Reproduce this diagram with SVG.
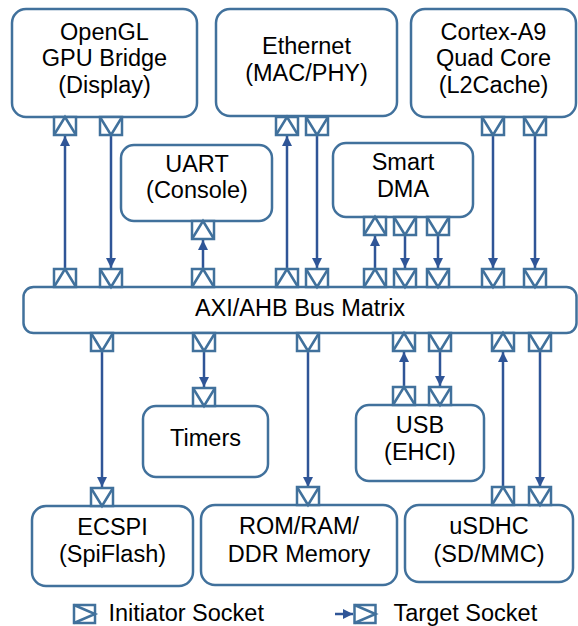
<svg xmlns="http://www.w3.org/2000/svg" xmlns:xlink="http://www.w3.org/1999/xlink" width="578" height="626" viewBox="0 0 578 626">
  <style>
    .box { fill: #ffffff; stroke: #41719c; stroke-width: 2.5; }
    .sock { fill: #ffffff; stroke: #41719c; stroke-width: 2.5; }
    .tri { fill: none; stroke: #41719c; stroke-width: 2.5; stroke-linejoin: miter; }
    .wire { fill: none; stroke: #2f5597; stroke-width: 2.5; }
    .lbl { font-family: "Liberation Sans", Arial, sans-serif; font-size: 23.5px; fill: #000000; text-anchor: middle; }
    .leg { font-family: "Liberation Sans", Arial, sans-serif; font-size: 23.5px; fill: #000000; }
  </style>
  <defs>
    <marker id="arrow" markerUnits="userSpaceOnUse" markerWidth="11" markerHeight="10" refX="10" refY="5" orient="auto">
      <path d="M0,0 L10,5 L0,10 z" fill="#2f5597"/>
    </marker>
    <!-- socket with triangle pointing up -->
    <g id="sock-up">
      <rect class="sock" x="-11" y="-9" width="22" height="18"/>
      <polyline class="tri" points="-11,9 0,-9 11,9"/>
    </g>
    <!-- socket with triangle pointing down -->
    <g id="sock-down">
      <rect class="sock" x="-11" y="-9" width="22" height="18"/>
      <polyline class="tri" points="-11,-9 0,9 11,-9"/>
    </g>
    <!-- socket with triangle pointing right (legend) -->
    <g id="sock-right">
      <rect class="sock" x="-10.5" y="-9" width="21" height="18"/>
      <polyline class="tri" points="-10.5,-9 10.5,0 -10.5,9"/>
    </g>
  </defs>

  <!-- connectors -->
  <g id="connectors">
    <line class="wire" x1="65" y1="269" x2="65" y2="136" marker-end="url(#arrow)"/>
    <line class="wire" x1="111" y1="135" x2="111" y2="268" marker-end="url(#arrow)"/>
    <line class="wire" x1="203" y1="269" x2="203" y2="240" marker-end="url(#arrow)"/>
    <line class="wire" x1="287" y1="269" x2="287" y2="136" marker-end="url(#arrow)"/>
    <line class="wire" x1="317" y1="135" x2="317" y2="268" marker-end="url(#arrow)"/>
    <line class="wire" x1="375" y1="269" x2="375" y2="236" marker-end="url(#arrow)"/>
    <line class="wire" x1="405" y1="235" x2="405" y2="268" marker-end="url(#arrow)"/>
    <line class="wire" x1="438" y1="235" x2="438" y2="268" marker-end="url(#arrow)"/>
    <line class="wire" x1="493" y1="135" x2="493" y2="268" marker-end="url(#arrow)"/>
    <line class="wire" x1="535" y1="135" x2="535" y2="268" marker-end="url(#arrow)"/>
    <line class="wire" x1="102" y1="351" x2="102" y2="487" marker-end="url(#arrow)"/>
    <line class="wire" x1="204" y1="351" x2="204" y2="387" marker-end="url(#arrow)"/>
    <line class="wire" x1="308" y1="351" x2="308" y2="487" marker-end="url(#arrow)"/>
    <line class="wire" x1="404" y1="387" x2="404" y2="352" marker-end="url(#arrow)"/>
    <line class="wire" x1="440" y1="351" x2="440" y2="386" marker-end="url(#arrow)"/>
    <line class="wire" x1="503" y1="488" x2="503" y2="352" marker-end="url(#arrow)"/>
    <line class="wire" x1="540" y1="351" x2="540" y2="487" marker-end="url(#arrow)"/>
  </g>

  <g id="opengl">
    <rect class="box" x="12" y="9" width="185" height="108" rx="14"/>
    <text class="lbl" x="104.5" y="39.5">OpenGL</text>
    <text class="lbl" x="104.5" y="66">GPU Bridge</text>
    <text class="lbl" x="104.5" y="92.5">(Display)</text>
    <use xlink:href="#sock-up" x="65" y="126"/>
    <use xlink:href="#sock-down" x="111" y="126"/>
  </g>

  <g id="ethernet">
    <rect class="box" x="216" y="9" width="181" height="107" rx="14"/>
    <text class="lbl" x="306.5" y="54">Ethernet</text>
    <text class="lbl" x="306.5" y="81">(MAC/PHY)</text>
    <use xlink:href="#sock-up" x="287" y="126"/>
    <use xlink:href="#sock-down" x="317" y="126"/>
  </g>

  <g id="cortex">
    <rect class="box" x="411" y="9" width="165" height="108" rx="14"/>
    <text class="lbl" x="493.5" y="39.5">Cortex-A9</text>
    <text class="lbl" x="493.5" y="66">Quad Core</text>
    <text class="lbl" x="493.5" y="92.5">(L2Cache)</text>
    <use xlink:href="#sock-down" x="493" y="126"/>
    <use xlink:href="#sock-down" x="535" y="126"/>
  </g>

  <g id="uart">
    <rect class="box" x="121" y="145" width="151" height="76" rx="13"/>
    <text class="lbl" x="197" y="171.5">UART</text>
    <text class="lbl" x="197" y="198">(Console)</text>
    <use xlink:href="#sock-up" x="203" y="230"/>
  </g>

  <g id="dma">
    <rect class="box" x="333" y="143" width="140" height="74" rx="13"/>
    <text class="lbl" x="403" y="170">Smart</text>
    <text class="lbl" x="403" y="197">DMA</text>
    <use xlink:href="#sock-up" x="375" y="226"/>
    <use xlink:href="#sock-down" x="405" y="226"/>
    <use xlink:href="#sock-down" x="438" y="226"/>
  </g>

  <g id="bus">
    <rect class="box" x="23.5" y="287" width="553" height="46" rx="10"/>
    <text class="lbl" x="300" y="316">AXI/AHB Bus Matrix</text>
    <use xlink:href="#sock-up" x="65" y="278"/>
    <use xlink:href="#sock-down" x="111" y="278"/>
    <use xlink:href="#sock-up" x="203" y="278"/>
    <use xlink:href="#sock-up" x="287" y="278"/>
    <use xlink:href="#sock-down" x="317" y="278"/>
    <use xlink:href="#sock-up" x="375" y="278"/>
    <use xlink:href="#sock-down" x="405" y="278"/>
    <use xlink:href="#sock-down" x="438" y="278"/>
    <use xlink:href="#sock-down" x="493" y="278"/>
    <use xlink:href="#sock-down" x="535" y="278"/>
    <use xlink:href="#sock-down" x="102" y="342"/>
    <use xlink:href="#sock-down" x="204" y="342"/>
    <use xlink:href="#sock-down" x="308" y="342"/>
    <use xlink:href="#sock-up" x="404" y="342"/>
    <use xlink:href="#sock-down" x="440" y="342"/>
    <use xlink:href="#sock-up" x="503" y="342"/>
    <use xlink:href="#sock-down" x="540" y="342"/>
  </g>

  <g id="timers">
    <rect class="box" x="143" y="406" width="125" height="71" rx="13"/>
    <text class="lbl" x="205.5" y="446">Timers</text>
    <use xlink:href="#sock-down" x="204" y="397"/>
  </g>

  <g id="usb">
    <rect class="box" x="356" y="405" width="128" height="76" rx="13"/>
    <text class="lbl" x="420" y="433">USB</text>
    <text class="lbl" x="420" y="459.5">(EHCI)</text>
    <use xlink:href="#sock-up" x="404" y="396"/>
    <use xlink:href="#sock-down" x="440" y="396"/>
  </g>

  <g id="ecspi">
    <rect class="box" x="32" y="506" width="161" height="80" rx="14"/>
    <text class="lbl" x="112.5" y="535">ECSPI</text>
    <text class="lbl" x="112.5" y="562">(SpiFlash)</text>
    <use xlink:href="#sock-down" x="102" y="497"/>
  </g>

  <g id="memory">
    <rect class="box" x="201" y="505" width="196" height="80" rx="14"/>
    <text class="lbl" x="299" y="534">ROM/RAM/</text>
    <text class="lbl" x="299" y="561.5">DDR Memory</text>
    <use xlink:href="#sock-down" x="308" y="496"/>
  </g>

  <g id="usdhc">
    <rect class="box" x="405" y="505" width="168" height="77" rx="14"/>
    <text class="lbl" x="489" y="534">uSDHC</text>
    <text class="lbl" x="489" y="561.5">(SD/MMC)</text>
    <use xlink:href="#sock-up" x="503" y="496"/>
    <use xlink:href="#sock-down" x="540" y="496"/>
  </g>

  <g id="legend">
    <use xlink:href="#sock-right" x="84.5" y="614"/>
    <text class="leg" x="108.5" y="621">Initiator Socket</text>
    <line class="wire" x1="335" y1="614" x2="353" y2="614" marker-end="url(#arrow)"/>
    <use xlink:href="#sock-right" x="365" y="614"/>
    <text class="leg" x="393.5" y="621">Target Socket</text>
  </g>
</svg>
